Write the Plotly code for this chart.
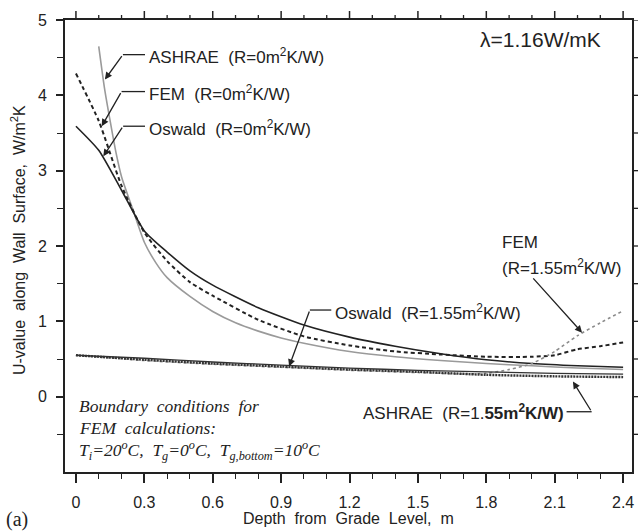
import plotly.graph_objects as go

# ---- data ----
depth_osw0 = [0, 0.1, 0.2, 0.3, 0.4, 0.5, 0.6, 0.8, 1.0, 1.2, 1.4, 1.6, 1.8, 2.0, 2.2, 2.4]
u_osw0 = [3.59, 3.27, 2.74, 2.20, 1.92, 1.67, 1.48, 1.18, 0.95, 0.79, 0.67, 0.57, 0.49, 0.44, 0.41, 0.39]

depth_fem0 = [0, 0.1, 0.2, 0.3, 0.4, 0.5, 0.6, 0.8, 1.0, 1.2, 1.4, 1.6, 1.8, 2.0, 2.1, 2.2, 2.3, 2.4]
u_fem0 = [4.29, 3.66, 2.80, 2.18, 1.80, 1.52, 1.34, 1.02, 0.80, 0.68, 0.60, 0.56, 0.53, 0.53, 0.55, 0.63, 0.67, 0.72]

depth_ash0 = [0.1, 0.125, 0.15, 0.175, 0.2, 0.25, 0.3, 0.35, 0.4, 0.5, 0.6, 0.7, 0.8, 0.9, 1.0, 1.2, 1.4, 1.6, 1.8, 2.0, 2.2, 2.4]
u_ash0 = [4.65, 4.10, 3.66, 3.25, 2.92, 2.48, 2.05, 1.78, 1.58, 1.33, 1.13, 0.98, 0.87, 0.78, 0.71, 0.60, 0.53, 0.48, 0.44, 0.41, 0.38, 0.36]

depth_osw155 = [0, 0.3, 0.6, 0.9, 1.2, 1.5, 1.8, 2.1, 2.4]
u_osw155 = [0.55, 0.51, 0.46, 0.42, 0.38, 0.35, 0.33, 0.31, 0.30]

depth_ash155 = [0, 0.3, 0.6, 0.9, 1.2, 1.5, 1.8, 2.1, 2.4]
u_ash155 = [0.55, 0.49, 0.44, 0.40, 0.36, 0.33, 0.29, 0.27, 0.26]

depth_fem155 = [0, 0.3, 0.6, 0.9, 1.2, 1.5, 1.7, 1.8, 1.9, 2.0, 2.1, 2.2, 2.3, 2.4]
u_fem155 = [0.55, 0.48, 0.43, 0.39, 0.35, 0.32, 0.30, 0.31, 0.36, 0.44, 0.60, 0.81, 0.98, 1.14]

x_ticks = [0, 0.3, 0.6, 0.9, 1.2, 1.5, 1.8, 2.1, 2.4]
x_tick_labels = ["0", "0.3", "0.6", "0.9", "1.2", "1.5", "1.8", "2.1", "2.4"]
x_minor_ticks = [0.1, 0.2, 0.4, 0.5, 0.7, 0.8, 1.0, 1.1, 1.3, 1.4, 1.6, 1.7, 1.9, 2.0, 2.2, 2.3]
y_ticks = [0, 1, 2, 3, 4, 5]
y_minor_ticks = [-0.5, 0.5, 1.5, 2.5, 3.5, 4.5]

INK = "#222222"
SANS = "Liberation Sans, Arial, sans-serif"
SERIF = "Liberation Serif, Times New Roman, serif"
X_RANGE = [-0.048, 2.439]
Y_RANGE = [-1, 5]
W, H = 642, 531
M = dict(l=65, r=10, t=20, b=59)
PLOT_W = W - M["l"] - M["r"]
PLOT_H = H - M["t"] - M["b"]

fig = go.Figure()

def add(x, y, color, width, dash):
    fig.add_trace(go.Scatter(x=x, y=y, mode="lines",
                             line=dict(color=color, width=width, dash=dash, shape="spline", smoothing=0.6),
                             hoverinfo="skip", showlegend=False))

add(depth_ash0, u_ash0, "#9a9a9a", 1.6, "solid")
add(depth_osw0, u_osw0, "#222222", 1.6, "solid")
add(depth_fem0, u_fem0, "#222222", 2.0, "4px,3px")
add(depth_fem155, u_fem155, "#8a8a8a", 1.6, "3px,3px")
add(depth_osw155, u_osw155, "#333333", 1.3, "solid")
add(depth_ash155, u_ash155, "#333333", 2.4, "2px,1px")

annotations = []

def label(x, y, text, xanchor="left", size=17, font=SANS):
    annotations.append(dict(x=x, y=y, xref="x", yref="y", text=text, showarrow=False, xanchor=xanchor,
                            yanchor="middle", font=dict(family=font, size=size, color=INK)))

def arrow(x0, y0, x1, y1):
    annotations.append(dict(x=x1, y=y1, ax=x0, ay=y0, xref="x", yref="y", axref="x", ayref="y", text="",
                            showarrow=True, arrowhead=2, arrowsize=1.1, arrowwidth=1.3, arrowcolor=INK))

shapes = []

def hline(x0, x1, y):
    shapes.append(dict(type="line", xref="x", yref="y", x0=x0, x1=x1, y0=y, y1=y,
                       line=dict(color=INK, width=1.3)))

# top and right tick marks (mirrors of the axis ticks), built from the tick lists
for v in x_ticks:
    shapes.append(dict(type="line", xref="x", yref="paper", x0=v, x1=v, y0=1, y1=1 + 9 / PLOT_H,
                       line=dict(color=INK, width=1.5)))
for v in x_minor_ticks:
    shapes.append(dict(type="line", xref="x", yref="paper", x0=v, x1=v, y0=1, y1=1 + 5 / PLOT_H,
                       line=dict(color=INK, width=1.3)))
for v in y_ticks + y_minor_ticks:
    shapes.append(dict(type="line", xref="paper", yref="y", x0=1, x1=1 + 6 / PLOT_W, y0=v, y1=v,
                       line=dict(color=INK, width=1.3)))

label(0.31, 4.52, "ASHRAE  (R=0m<sup>2</sup>K/W)")
hline(0.206, 0.303, 4.54)
arrow(0.206, 4.54, 0.127, 4.21)

label(0.31, 4.03, "FEM  (R=0m<sup>2</sup>K/W)")
hline(0.200, 0.303, 4.05)
arrow(0.200, 4.05, 0.113, 3.59)

label(0.31, 3.57, "Oswald  (R=0m<sup>2</sup>K/W)")
hline(0.207, 0.303, 3.59)
arrow(0.207, 3.59, 0.120, 3.19)

label(1.127, 1.13, "Oswald  (R=1.55m<sup>2</sup>K/W)")
hline(1.026, 1.12, 1.15)
arrow(1.026, 1.15, 0.935, 0.40)

label(1.86, 2.04, "FEM")
label(1.86, 1.72, "(R=1.55m<sup>2</sup>K/W)")
arrow(2.00, 1.59, 2.22, 0.85)

label(2.15, -0.21, "ASHRAE  (R=1.<b>55m<sup>2</sup>K/W)</b>", xanchor="right")
hline(2.152, 2.262, -0.20)
arrow(2.262, -0.20, 2.18, 0.20)

label(1.763, 4.74, "\u03bb=1.16W/mK", size=21)

label(0.004, -0.12, "<i>Boundary  conditions  for</i>", size=17.5, font=SERIF)
label(0.004, -0.42, "<i>FEM  calculations:</i>", size=17.5, font=SERIF)
label(0.004, -0.71,
      "<i>T<sub>i</sub>=20<sup>o</sup>C,  T<sub>g</sub>=0<sup>o</sup>C,  T<sub>g,bottom</sub>=10<sup>o</sup>C</i>",
      size=17.5, font=SERIF)

# panel tag and axis titles placed in paper coordinates
annotations.append(dict(x=-0.107, y=-0.106, xref="paper", yref="paper", text="(a)", showarrow=False,
                        xanchor="left", yanchor="middle", font=dict(family=SERIF, size=20, color=INK)))
annotations.append(dict(x=0.5, y=-0.102, xref="paper", yref="paper", text="Depth  from  Grade  Level,  m",
                        showarrow=False, xanchor="center", yanchor="middle",
                        font=dict(family=SANS, size=16, color=INK)))
annotations.append(dict(x=-0.083, y=0.513, xref="paper", yref="paper",
                        text="U-value  along  Wall  Surface,  W/m<sup>2</sup>K", textangle=-90,
                        showarrow=False, xanchor="center", yanchor="middle",
                        font=dict(family=SANS, size=16, color=INK)))

fig.update_layout(
    width=W, height=H,
    margin=dict(**M, autoexpand=False),
    paper_bgcolor="white", plot_bgcolor="white",
    annotations=annotations, shapes=shapes,
    font=dict(family=SANS, size=16, color=INK),
)

fig.update_layout(
    xaxis=dict(
        range=X_RANGE, tickmode="array", tickvals=x_ticks, ticktext=x_tick_labels,
        ticks="outside", ticklen=9, tickwidth=1.5, tickcolor=INK, ticklabelstandoff=6,
        showline=True, linecolor=INK, linewidth=2, mirror=True, showgrid=False, zeroline=False,
        minor=dict(tickvals=x_minor_ticks, ticks="outside", ticklen=5, tickwidth=1.3, tickcolor=INK,
                   showgrid=False),
        tickfont=dict(family=SANS, size=16, color=INK), automargin=False,
    ),
    yaxis=dict(
        range=Y_RANGE, tickmode="array", tickvals=y_ticks,
        ticks="outside", ticklen=7, tickwidth=1.5, tickcolor=INK, ticklabelstandoff=6,
        showline=True, linecolor=INK, linewidth=2, mirror=True, showgrid=False, zeroline=False,
        minor=dict(tickvals=y_minor_ticks, ticks="outside", ticklen=6, tickwidth=1.3, tickcolor=INK,
                   showgrid=False),
        tickfont=dict(family=SANS, size=16, color=INK), automargin=False,
    ),
)

fig.write_html("out.html", config={"displayModeBar": False},
               post_script="document.body.style.margin='0px';")
